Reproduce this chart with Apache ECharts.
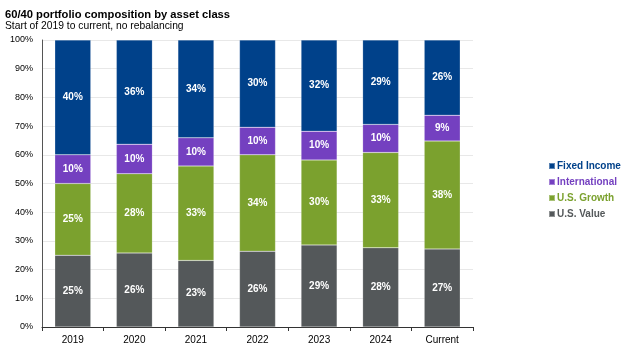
<!DOCTYPE html>
<html>
<head>
<meta charset="utf-8">
<script src="https://cdn.jsdelivr.net/npm/echarts@6/dist/echarts.min.js"></script>
<style>
  html, body { margin: 0; padding: 0; background: #fff; }
  #chart { width: 624px; height: 353px; }
</style>
</head>
<body>
<div id="chart"></div>
<script>
// categories and stack values (% of portfolio)
var years = ['2019', '2020', '2021', '2022', '2023', '2024', 'Current'];
var usValue     = [25.0, 25.8, 23.2, 26.4, 28.6, 27.6, 27.2];
var usGrowth    = [25.0, 27.6, 32.9, 33.6, 29.6, 33.2, 37.6];
var intl        = [10.0, 10.3,  9.8,  9.6, 10.0,  9.8,  9.0];
var fixedIncome = [40.0, 36.3, 34.1, 30.4, 31.8, 29.4, 26.2];
var yTicks = [0, 10, 20, 30, 40, 50, 60, 70, 80, 90, 100];

var FONT = '"Liberation Sans", Arial, sans-serif';

var myChart = echarts.init(document.getElementById('chart'));

// one stacked bar series
function bar(name, data, color) {
    return {
        name: name,
        type: 'bar',
        stack: 'total',
        barWidth: 36,
        data: data,
        itemStyle: {
            color: color,
            borderColor: 'rgba(255,255,255,0.35)',
            borderWidth: 0.5
        },
        label: {
            show: true,
            position: 'inside',
            color: '#fff',
            fontFamily: FONT,
            fontWeight: 'bold',
            fontSize: 10,
            formatter: function (p) { return Math.round(p.value) + '%'; }
        }
    };
}

var option = {
    animation: false,
    title: [{
        text: '60/40 portfolio composition by asset class',
        left: 0,
        top: 4,
        textStyle: { fontFamily: FONT, fontSize: 11.2, fontWeight: 'bold', color: '#000' }
    }, {
        text: 'Start of 2019 to current, no rebalancing',
        left: 0,
        top: 16,
        textStyle: { fontFamily: FONT, fontSize: 10.3, fontWeight: 'normal', color: '#000' }
    }],

    // legend on the right, top item is Fixed Income
    legend: {
        orient: 'vertical',
        left: 543,
        top: 156,
        itemWidth: 6,
        itemHeight: 6,
        itemGap: 6,
        icon: 'rect',
        selectedMode: false,
        data: ['Fixed Income', 'International', 'U.S. Growth', 'U.S. Value'],
        formatter: function (name) { return '{' + name.replace(/[^A-Za-z]/g, '') + '|' + name + '}'; },
        textStyle: {
            fontFamily: FONT,
            fontSize: 10,
            fontWeight: 'bold',
            padding: [0, 0, 0, -3],
            rich: {
                FixedIncome: { color: '#00418A', fontFamily: FONT, fontSize: 10, fontWeight: 'bold' },
                International: { color: '#7440C0', fontFamily: FONT, fontSize: 10, fontWeight: 'bold' },
                USGrowth: { color: '#7BA12E', fontFamily: FONT, fontSize: 10, fontWeight: 'bold' },
                USValue: { color: '#54585A', fontFamily: FONT, fontSize: 10, fontWeight: 'bold' }
            }
        }
    },

    grid: {
        left: 42,
        right: 151,
        top: 40,
        bottom: 26
    },

    xAxis: {
        type: 'category',
        data: years,
        axisLine: { lineStyle: { color: '#333', width: 1 } },
        axisTick: { show: true, length: 4, lineStyle: { color: '#333' } },
        axisLabel: { color: '#000', fontFamily: FONT, fontSize: 10, margin: 8 }
    },

    yAxis: {
        type: 'value',
        min: 0,
        max: 100,
        interval: 10,
        axisLine: { show: true, lineStyle: { color: '#555', width: 1 } },
        axisTick: { show: false },
        splitLine: { lineStyle: { color: '#e8e8e8' } },
        axisLabel: {
            color: '#000',
            fontFamily: FONT,
            fontSize: 9,
            margin: 9,
            formatter: function (v) { return yTicks.indexOf(v) >= 0 ? v + '%' : ''; }
        }
    },

    series: [
        bar('U.S. Value', usValue, '#54585A'),
        bar('U.S. Growth', usGrowth, '#7BA12E'),
        bar('International', intl, '#7440C0'),
        bar('Fixed Income', fixedIncome, '#00418A')
    ]
};

myChart.setOption(option);
</script>
</body>
</html>
